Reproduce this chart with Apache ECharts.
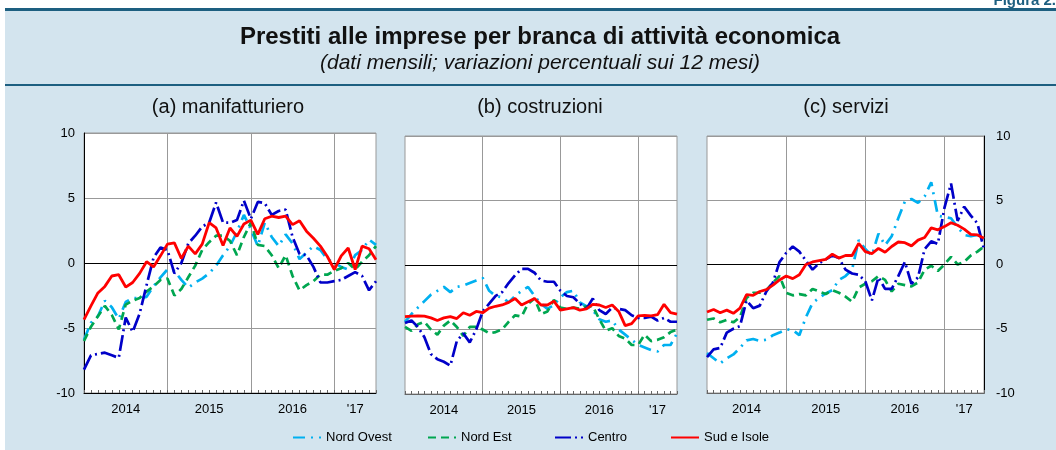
<!DOCTYPE html>
<html>
<head>
<meta charset="utf-8">
<script src="https://cdn.jsdelivr.net/npm/echarts@6/dist/echarts.min.js"></script>
<style>
  html, body { margin: 0; padding: 0; background: #fff; }
  #chart { width: 1056px; height: 450px; }
</style>
</head>
<body>
<div id="chart"></div>
<script>
// monthly categories, Dec 2013 .. Jun 2017
var months = ['2013-12',
  '2014-01','2014-02','2014-03','2014-04','2014-05','2014-06','2014-07','2014-08','2014-09','2014-10','2014-11','2014-12',
  '2015-01','2015-02','2015-03','2015-04','2015-05','2015-06','2015-07','2015-08','2015-09','2015-10','2015-11','2015-12',
  '2016-01','2016-02','2016-03','2016-04','2016-05','2016-06','2016-07','2016-08','2016-09','2016-10','2016-11','2016-12',
  '2017-01','2017-02','2017-03','2017-04','2017-05','2017-06'];
var labelMonths = ['2014-06', '2015-06', '2016-06', '2017-03'];
var labelTexts = ['2014', '2015', '2016', "'17"];
var yearEnds = ['2014-12', '2015-12', '2016-12'];

// (a) manifatturiero
var manNordOvest = [-5.9,-4.6,-4.1,-2.9,-3.4,-4.3,-3.0,-2.7,-2.7,-2.6,-1.8,-1.1,-0.5,-0.6,-1.3,-1.9,-1.5,-1.2,-0.8,-0.2,0.6,1.3,2.4,3.7,2.6,1.3,3.1,2.0,1.3,2.2,1.5,0.3,0.8,1.3,1.0,0.3,0.0,-0.3,-0.5,0.6,1.0,1.8,1.4];
var manNordEst = [-6.0,-4.9,-4.1,-3.3,-4.0,-5.1,-3.2,-2.9,-2.7,-2.2,-1.8,-1.3,-1.2,-2.5,-2.0,-1.1,-0.2,1.0,1.6,2.1,2.1,1.7,0.6,2.0,3.1,1.4,1.3,0.6,-0.4,0.6,-1.0,-2.1,-1.7,-1.4,-0.9,-0.9,-0.6,-0.4,0.0,-0.5,0.1,0.6,1.3];
var manCentro = [-8.2,-7.1,-7.0,-6.9,-7.1,-7.3,-4.2,-5.3,-3.9,-1.7,0.4,1.2,1.0,-0.8,0.0,1.5,2.1,2.8,3.1,4.65,3.1,3.1,3.3,4.8,3.4,4.7,4.6,3.7,4.0,4.1,2.0,0.7,0.6,-0.3,-1.5,-1.5,-1.4,-1.3,-1.0,-0.7,-1.0,-2.1,-1.4];
var manSud = [-4.36,-3.3,-2.3,-1.8,-1.0,-0.9,-1.85,-1.5,-0.8,0.1,-0.3,0.55,1.45,1.55,0.35,1.3,0.7,1.45,3.1,2.7,1.35,2.7,2.05,3.0,3.3,2.2,3.4,3.6,3.5,3.6,2.95,3.25,2.45,1.9,1.3,0.5,-0.5,0.55,1.15,-0.5,1.3,1.1,0.25];

// (b) costruzioni
var cosNordOvest = [-4.4,-3.8,-3.3,-2.8,-2.3,-2.0,-1.7,-2.1,-1.7,-1.6,-1.4,-1.2,-1.0,-2.0,-2.4,-2.5,-2.9,-2.4,-2.0,-1.7,-2.4,-3.0,-3.4,-3.1,-2.5,-2.1,-2.0,-2.9,-3.2,-3.5,-4.2,-4.4,-4.3,-5.0,-5.4,-5.8,-6.2,-6.4,-6.6,-6.7,-6.2,-6.2,-5.3];
var cosNordEst = [-4.8,-5.1,-4.6,-4.4,-5.0,-5.4,-4.7,-4.3,-4.8,-5.5,-4.8,-4.8,-5.0,-5.3,-5.2,-5.0,-4.4,-3.9,-4.0,-3.0,-2.6,-3.8,-3.6,-2.7,-3.3,-3.4,-3.3,-3.4,-3.2,-3.2,-4.2,-5.1,-4.9,-5.5,-5.7,-6.2,-6.2,-5.4,-5.9,-5.8,-5.6,-5.2,-5.0];
var cosCentro = [-4.5,-4.3,-4.8,-5.6,-6.9,-7.3,-7.5,-7.8,-5.9,-5.3,-6.0,-5.0,-3.6,-3.0,-2.4,-2.1,-1.4,-0.8,-0.3,-0.3,-0.6,-1.2,-1.3,-1.3,-2.0,-2.4,-2.5,-3.0,-3.4,-2.6,-3.5,-3.8,-3.3,-3.4,-3.5,-3.9,-4.1,-4.1,-4.0,-4.3,-4.1,-4.4,-4.4];
var cosSud = [-4.0,-3.97,-3.95,-3.97,-4.1,-4.3,-4.1,-4.0,-4.15,-3.7,-3.9,-3.6,-3.7,-3.35,-3.2,-3.1,-2.9,-2.6,-3.1,-2.85,-2.6,-3.1,-3.1,-2.8,-3.5,-3.4,-3.3,-3.5,-3.4,-3.05,-3.1,-3.3,-3.1,-3.6,-4.7,-4.55,-3.95,-3.9,-3.95,-3.85,-3.05,-3.7,-3.8];

// (c) servizi
var serNordOvest = [-6.9,-7.3,-7.7,-7.3,-7.0,-6.5,-5.9,-5.8,-5.95,-5.85,-5.5,-5.3,-5.05,-5.1,-5.5,-4.1,-3.0,-2.6,-2.25,-2.0,-1.2,-0.9,-0.4,1.9,1.2,0.7,2.4,1.5,2.2,3.6,4.9,5.1,4.8,5.3,6.4,3.8,3.7,3.6,2.9,2.3,2.2,2.3,2.0];
var serNordEst = [-4.3,-4.2,-4.5,-4.3,-4.5,-4.1,-2.6,-2.2,-2.2,-2.0,-1.4,-0.9,-2.2,-2.4,-2.3,-2.4,-1.9,-2.1,-2.3,-2.0,-2.2,-2.5,-2.9,-1.8,-1.5,-1.3,-0.9,-1.2,-2.1,-1.5,-1.6,-1.7,-1.4,-0.4,-0.1,-0.5,0.0,0.6,0.0,0.2,0.7,1.0,1.4];
var serCentro = [-7.2,-6.6,-6.5,-5.3,-5.0,-4.8,-2.8,-3.4,-3.2,-2.1,-1.4,0.2,0.9,1.4,1.0,0.3,-0.4,0.1,0.4,0.7,0.5,-0.4,-0.7,-0.8,-1.3,-2.8,-1.0,-1.9,-1.9,-0.9,0.2,-1.5,-1.0,1.2,1.8,1.6,4.4,6.3,3.4,4.5,3.8,3.2,1.2];
var serSud = [-3.7,-3.5,-3.75,-3.55,-3.8,-3.4,-2.35,-2.4,-2.1,-1.95,-1.6,-1.2,-0.9,-1.1,-0.8,0.0,0.2,0.3,0.4,0.8,0.5,0.7,0.7,1.65,1.0,0.85,1.25,0.95,1.4,1.75,1.7,1.45,1.9,2.1,2.85,2.7,2.95,3.25,3.05,2.75,2.35,2.3,2.05];

var names = ['Nord Ovest', 'Nord Est', 'Centro', 'Sud e Isole'];
var colors = ['#00b0f0', '#00a650', '#0000c8', '#ff0000'];
var dashes = [[12, 6, 2, 6], [8, 5], [16, 4, 2, 4], 'solid'];
var widths = [2.7, 2.7, 2.7, 2.8];

var panels = [
  [manNordOvest, manNordEst, manCentro, manSud],
  [cosNordOvest, cosNordEst, cosCentro, cosSud],
  [serNordOvest, serNordEst, serCentro, serSud]
];

var font = "'Liberation Sans', Arial, sans-serif";
var blue = '#1d5f80';

var grids = [
  { left: 84, top: 133, width: 292, height: 260 },
  { left: 405, top: 136, width: 272, height: 258 },
  { left: 707, top: 136, width: 277, height: 257 }
];
grids.forEach(function (g) {
  g.show = true;
  g.backgroundColor = '#fff';
  g.borderColor = '#999';
  g.borderWidth = 1;
});

var xAxes = [], yAxes = [], series = [];
for (var p = 0; p < 3; p++) {
  var axisCol = p === 0 ? '#000' : '#666';
  xAxes.push({
    type: 'category', gridIndex: p, data: months, boundaryGap: false,
    axisLine: { show: true, onZero: false, lineStyle: { color: axisCol, width: 1 } },
    axisTick: { show: true, inside: true, length: 3, interval: 0, lineStyle: { color: '#666' } },
    axisLabel: {
      interval: function (i, v) { return labelMonths.indexOf(v) >= 0; },
      formatter: function (v) { return labelTexts[labelMonths.indexOf(v)]; },
      fontSize: 13, color: '#000', fontFamily: font, margin: 10
    },
    splitLine: {
      show: true,
      interval: function (i, v) { return yearEnds.indexOf(v) >= 0; },
      lineStyle: { color: '#999', width: 1 }
    }
  });
  yAxes.push({
    type: 'value', gridIndex: p, min: -10, max: 10, interval: 5,
    position: p === 2 ? 'right' : 'left',
    axisLine: { show: p !== 1, lineStyle: { color: '#000', width: 1 } },
    axisTick: { show: false },
    axisLabel: { show: p !== 1, fontSize: 13, color: '#000', fontFamily: font, margin: p === 2 ? 12 : 9 },
    splitLine: { show: true, lineStyle: { color: '#999', width: 1 } }
  });
  for (var s = 0; s < 4; s++) {
    var ser = {
      name: names[s], type: 'line', xAxisIndex: p, yAxisIndex: p,
      data: panels[p][s], symbol: 'none', smooth: false,
      lineStyle: { color: colors[s], width: widths[s], type: dashes[s], cap: 'butt' },
      itemStyle: { color: colors[s] },
      z: 3 + s
    };
    if (s === 0) {
      ser.markLine = {
        silent: true, symbol: 'none', label: { show: false },
        lineStyle: { color: '#000', width: 1, type: 'solid' },
        data: [{ yAxis: 0 }]
      };
    }
    series.push(ser);
  }
}

var legendLeft = [292, 427, 554, 670];
var legends = names.map(function (n, i) {
  return {
    data: [n], left: legendLeft[i], top: 431, padding: 0, itemWidth: 28, itemHeight: 12,
    itemGap: 5,
    itemStyle: { color: 'rgba(0,0,0,0)', borderWidth: 0 },
    textStyle: { fontSize: 13, color: '#000', fontFamily: font }
  };
});

var chart = echarts.init(document.getElementById('chart'));
chart.setOption({
  animation: false,
  backgroundColor: '#fff',
  grid: grids,
  xAxis: xAxes,
  yAxis: yAxes,
  legend: legends,
  series: series,
  graphic: [
    { type: 'rect', shape: { x: 5, y: 10, width: 1051, height: 440 }, style: { fill: '#d3e4ee' }, z: -10 },
    { type: 'rect', shape: { x: 5, y: 8, width: 1051, height: 3 }, style: { fill: blue }, z: -9 },
    { type: 'rect', shape: { x: 5, y: 84, width: 1051, height: 2 }, style: { fill: blue }, z: -9 },
    { type: 'text', x: 1056, y: -7, style: { text: 'Figura 2.', textAlign: 'right', fill: blue, font: 'bold 15px ' + font } },
    { type: 'text', x: 540, y: 37, style: { text: 'Prestiti alle imprese per branca di attività economica', textAlign: 'center', textVerticalAlign: 'middle', fill: '#111', font: 'bold 24px ' + font } },
    { type: 'text', x: 540, y: 63, style: { text: '(dati mensili; variazioni percentuali sui 12 mesi)', textAlign: 'center', textVerticalAlign: 'middle', fill: '#111', font: 'italic 21px ' + font } },
    { type: 'text', x: 228, y: 107, style: { text: '(a) manifatturiero', textAlign: 'center', textVerticalAlign: 'middle', fill: '#111', font: '20px ' + font } },
    { type: 'text', x: 540, y: 107, style: { text: '(b) costruzioni', textAlign: 'center', textVerticalAlign: 'middle', fill: '#111', font: '20px ' + font } },
    { type: 'text', x: 846, y: 107, style: { text: '(c) servizi', textAlign: 'center', textVerticalAlign: 'middle', fill: '#111', font: '20px ' + font } }
  ]
});
</script>
</body>
</html>
